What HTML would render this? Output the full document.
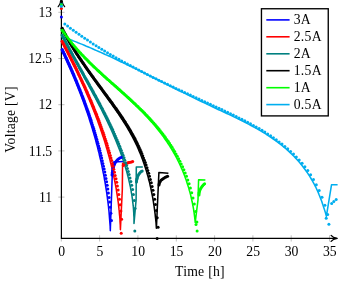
<!DOCTYPE html>
<html><head><meta charset="utf-8"><title>Discharge curves</title>
<style>html,body{margin:0;padding:0;background:#fff;}body{width:341px;height:284px;overflow:hidden;font-family:"Liberation Serif",serif;}svg{display:block;will-change:transform;transform:translateZ(0)}</style>
</head><body>
<svg width="341" height="284" viewBox="0 0 341 284">
<rect width="341" height="284" fill="#fff"/>
<path d="M61.3,235.3 V241.5 M99.6,235.3 V241.5 M137.9,235.3 V241.5 M176.3,235.3 V241.5 M214.6,235.3 V241.5 M252.9,235.3 V241.5 M291.2,235.3 V241.5 M329.5,235.3 V241.5 M58.3,197.1 H64.5 M58.3,150.9 H64.5 M58.3,104.7 H64.5 M58.3,58.5 H64.5 M58.3,12.3 H64.5" stroke="#808080" stroke-width="0.5" fill="none"/>
<path d="M61.4,239.00 V-2 M60.80,238.4 H336.6" stroke="#000" stroke-width="1.2" fill="none"/>
<path d="M61.4,-1.6 C61.90,2.2 63.00,4.8 64.60,6.7 M61.4,-1.6 C60.90,2.2 59.80,4.8 58.20,6.7" stroke="#000" stroke-width="1.25" stroke-linecap="round" fill="none"/>
<path d="M337.2,238.4 C334,238.90 332.2,239.90 331.1,241.40 M337.2,238.4 C334,237.90 332.2,236.90 331.1,235.40" stroke="#000" stroke-width="1.25" stroke-linecap="round" fill="none"/>
<path d="M61.4,49.0 L61.4,50.1 L62.0,51.3 L62.5,52.4 L63.0,53.6 L63.6,54.7 L64.1,55.8 L64.7,57.0 L65.2,58.1 L65.7,59.3 L66.3,60.4 L66.8,61.6 L67.3,62.7 L67.8,63.9 L68.4,65.1 L68.9,66.2 L69.4,67.4 L69.9,68.5 L70.4,69.7 L70.9,70.8 L71.4,72.0 L71.9,73.2 L72.4,74.3 L72.9,75.5 L73.4,76.7 L73.9,77.8 L74.4,79.0 L74.9,80.2 L75.4,81.4 L75.9,82.5 L76.4,83.7 L76.8,84.9 L77.3,86.1 L77.8,87.3 L78.2,88.4 L78.7,89.6 L79.2,90.8 L79.6,92.0 L80.1,93.2 L80.6,94.4 L81.0,95.6 L81.5,96.7 L81.9,97.9 L82.3,99.1 L82.8,100.3 L83.2,101.5 L83.7,102.7 L84.1,103.9 L84.5,105.1 L85.0,106.3 L85.4,107.5 L85.8,108.7 L86.2,109.9 L86.6,111.1 L87.0,112.3 L87.5,113.5 L87.9,114.7 L88.3,115.9 L88.7,117.1 L89.1,118.3 L89.4,119.6 L89.8,120.8 L90.2,122.0 L90.6,123.2 L91.0,124.4 L91.4,125.6 L91.7,126.8 L92.1,128.1 L92.5,129.3 L92.8,130.5 L93.2,131.7 L93.6,132.9 L93.9,134.2 L94.3,135.4 L94.6,136.6 L95.0,137.8 L95.3,139.1 L95.7,140.3 L96.0,141.5 L96.3,142.8 L96.6,144.0 L97.0,145.2 L97.3,146.4 L97.6,147.7 L97.9,148.9 L98.2,150.1 L98.5,151.4 L98.9,152.6 L99.2,153.9 L99.4,155.1 L99.7,156.3 L100.0,157.6 L100.3,158.8 L100.6,160.0 L100.9,161.3 L101.2,162.5 L101.4,163.8 L101.7,165.0 L102.0,166.3 L102.2,167.5 L102.5,168.8 L102.7,170.0 L103.0,171.3 L103.2,172.5 L103.5,173.7 L103.7,175.0 L104.0,176.2 L104.2,177.5 L104.4,178.8 L104.6,180.0 L104.9,181.3 L105.1,182.5 L105.3,183.8 L105.5,185.0 L105.7,186.3 L105.9,187.5 L106.1,188.8 L106.3,190.1 L106.5,191.3 L106.7,192.6 L106.9,193.8 L107.0,195.1 L107.2,196.4 L107.4,197.6 L107.5,198.9 L107.7,200.1 L107.9,201.4 L108.0,202.7 L108.2,203.9 L108.3,205.2 L108.5,206.5 L108.6,207.7 L108.7,209.0 L108.9,210.3 L109.0,211.5 L109.1,212.8 L109.2,214.1 L109.3,215.3 L109.4,216.6 L109.5,217.9 L109.6,219.1 L109.7,220.4 L109.8,221.7 L109.9,223.0 L110.0,224.2 L110.1,225.5 L110.2,226.8 L110.2,228.1 L110.3,229.3 L110.3,230.6 L111.4,200.0 L112.5,167.6 L113.5,162.0 L123.4,161.5" stroke="#0000ff" stroke-width="1.55" fill="none" stroke-linejoin="round"/>
<path d="M61.4,40.5 L61.4,41.7 L62.0,42.9 L62.6,44.1 L63.3,45.2 L63.9,46.4 L64.5,47.6 L65.1,48.8 L65.7,50.0 L66.4,51.2 L67.0,52.4 L67.6,53.6 L68.2,54.8 L68.8,56.0 L69.4,57.2 L70.0,58.4 L70.6,59.6 L71.2,60.8 L71.8,62.0 L72.4,63.2 L73.0,64.4 L73.6,65.6 L74.2,66.8 L74.8,68.0 L75.4,69.2 L76.0,70.4 L76.6,71.6 L77.2,72.8 L77.7,74.1 L78.3,75.3 L78.9,76.5 L79.5,77.7 L80.0,78.9 L80.6,80.1 L81.2,81.4 L81.7,82.6 L82.3,83.8 L82.8,85.0 L83.4,86.3 L83.9,87.5 L84.5,88.7 L85.0,89.9 L85.6,91.2 L86.1,92.4 L86.6,93.6 L87.2,94.9 L87.7,96.1 L88.2,97.3 L88.8,98.6 L89.3,99.8 L89.8,101.1 L90.3,102.3 L90.8,103.5 L91.3,104.8 L91.8,106.0 L92.3,107.3 L92.8,108.5 L93.3,109.8 L93.8,111.0 L94.3,112.3 L94.8,113.5 L95.3,114.8 L95.8,116.0 L96.2,117.3 L96.7,118.5 L97.2,119.8 L97.7,121.0 L98.1,122.3 L98.6,123.6 L99.0,124.8 L99.5,126.1 L99.9,127.3 L100.4,128.6 L100.8,129.9 L101.2,131.1 L101.7,132.4 L102.1,133.7 L102.5,135.0 L102.9,136.2 L103.4,137.5 L103.8,138.8 L104.2,140.1 L104.6,141.3 L105.0,142.6 L105.4,143.9 L105.8,145.2 L106.1,146.4 L106.5,147.7 L106.9,149.0 L107.3,150.3 L107.6,151.6 L108.0,152.9 L108.4,154.2 L108.7,155.5 L109.1,156.7 L109.4,158.0 L109.8,159.3 L110.1,160.6 L110.4,161.9 L110.8,163.2 L111.1,164.5 L111.4,165.8 L111.7,167.1 L112.0,168.4 L112.3,169.7 L112.6,171.0 L112.9,172.3 L113.2,173.6 L113.5,174.9 L113.8,176.3 L114.0,177.6 L114.3,178.9 L114.6,180.2 L114.8,181.5 L115.1,182.8 L115.3,184.1 L115.6,185.5 L115.8,186.8 L116.1,188.1 L116.3,189.4 L116.5,190.7 L116.7,192.1 L116.9,193.4 L117.1,194.7 L117.3,196.0 L117.5,197.4 L117.7,198.7 L117.9,200.0 L118.1,201.4 L118.3,202.7 L118.4,204.0 L118.6,205.4 L118.7,206.7 L118.9,208.0 L119.0,209.4 L119.2,210.7 L119.3,212.1 L119.4,213.4 L119.5,214.7 L119.7,216.1 L119.8,217.4 L119.9,218.8 L120.0,220.1 L120.0,221.5 L120.1,222.8 L120.2,224.2 L120.3,225.5 L120.3,226.9 L120.4,228.2 L120.4,229.6 L122.3,190.0 L122.6,163.2 L133.1,161.4" stroke="#ff0000" stroke-width="1.55" fill="none" stroke-linejoin="round"/>
<path d="M61.4,34.2 L61.4,35.4 L62.0,36.6 L62.6,37.8 L63.3,39.1 L63.9,40.3 L64.5,41.5 L65.2,42.7 L65.8,43.9 L66.4,45.1 L67.1,46.3 L67.7,47.5 L68.4,48.8 L69.0,50.0 L69.7,51.2 L70.3,52.4 L71.0,53.6 L71.7,54.8 L72.3,56.0 L73.0,57.2 L73.6,58.4 L74.3,59.6 L75.0,60.9 L75.6,62.1 L76.3,63.3 L77.0,64.5 L77.6,65.7 L78.3,66.9 L79.0,68.1 L79.6,69.3 L80.3,70.5 L81.0,71.7 L81.7,72.9 L82.3,74.2 L83.0,75.4 L83.7,76.6 L84.3,77.8 L85.0,79.0 L85.7,80.2 L86.3,81.4 L87.0,82.6 L87.7,83.8 L88.4,85.1 L89.0,86.3 L89.7,87.5 L90.3,88.7 L91.0,89.9 L91.7,91.1 L92.3,92.3 L93.0,93.6 L93.6,94.8 L94.3,96.0 L94.9,97.2 L95.6,98.4 L96.2,99.7 L96.9,100.9 L97.5,102.1 L98.2,103.3 L98.8,104.6 L99.5,105.8 L100.1,107.0 L100.7,108.2 L101.4,109.5 L102.0,110.7 L102.6,111.9 L103.2,113.2 L103.8,114.4 L104.5,115.6 L105.1,116.9 L105.7,118.1 L106.3,119.3 L106.9,120.6 L107.5,121.8 L108.1,123.1 L108.6,124.3 L109.2,125.5 L109.8,126.8 L110.4,128.0 L111.0,129.3 L111.5,130.5 L112.1,131.8 L112.6,133.0 L113.2,134.3 L113.7,135.6 L114.3,136.8 L114.8,138.1 L115.3,139.3 L115.9,140.6 L116.4,141.9 L116.9,143.1 L117.4,144.4 L117.9,145.7 L118.4,146.9 L118.9,148.2 L119.4,149.5 L119.9,150.8 L120.4,152.0 L120.8,153.3 L121.3,154.6 L121.7,155.9 L122.2,157.2 L122.6,158.5 L123.1,159.8 L123.5,161.1 L123.9,162.4 L124.3,163.7 L124.7,165.0 L125.1,166.3 L125.5,167.6 L125.9,168.9 L126.3,170.2 L126.7,171.5 L127.0,172.8 L127.4,174.1 L127.7,175.5 L128.1,176.8 L128.4,178.1 L128.7,179.4 L129.0,180.8 L129.3,182.1 L129.6,183.4 L129.9,184.8 L130.2,186.1 L130.5,187.4 L130.7,188.8 L131.0,190.1 L131.2,191.5 L131.4,192.8 L131.7,194.2 L131.9,195.6 L132.1,196.9 L132.3,198.3 L132.5,199.7 L132.6,201.0 L132.8,202.4 L133.0,203.8 L133.1,205.2 L133.3,206.5 L133.4,207.9 L133.5,209.3 L133.6,210.7 L133.7,212.1 L133.8,213.5 L133.8,214.9 L133.9,216.3 L134.0,217.7 L134.0,219.1 L134.0,220.6 L134.0,222.0 L134.0,223.4 L136.1,200.0 L136.3,167.0 L142.8,167.0" stroke="#008080" stroke-width="1.55" fill="none" stroke-linejoin="round"/>
<path d="M61.4,27.5 L61.4,28.9 L62.1,30.2 L62.8,31.6 L63.5,32.9 L64.3,34.2 L65.0,35.6 L65.7,36.9 L66.5,38.2 L67.2,39.6 L68.0,40.9 L68.7,42.2 L69.5,43.5 L70.3,44.8 L71.1,46.1 L71.9,47.4 L72.7,48.7 L73.5,50.0 L74.3,51.2 L75.1,52.5 L75.9,53.8 L76.7,55.1 L77.6,56.3 L78.4,57.6 L79.2,58.9 L80.1,60.1 L80.9,61.4 L81.8,62.6 L82.6,63.9 L83.5,65.1 L84.4,66.4 L85.2,67.6 L86.1,68.9 L87.0,70.1 L87.9,71.4 L88.7,72.6 L89.6,73.8 L90.5,75.1 L91.4,76.3 L92.3,77.5 L93.2,78.8 L94.1,80.0 L95.0,81.2 L95.9,82.5 L96.8,83.7 L97.6,84.9 L98.5,86.2 L99.4,87.4 L100.3,88.6 L101.2,89.9 L102.1,91.1 L103.0,92.3 L103.9,93.6 L104.8,94.8 L105.7,96.0 L106.6,97.2 L107.5,98.5 L108.4,99.7 L109.3,101.0 L110.2,102.2 L111.1,103.4 L112.0,104.7 L112.8,105.9 L113.7,107.2 L114.6,108.4 L115.5,109.7 L116.3,110.9 L117.2,112.2 L118.1,113.4 L118.9,114.7 L119.7,115.9 L120.6,117.2 L121.4,118.5 L122.3,119.7 L123.1,121.0 L123.9,122.3 L124.7,123.6 L125.5,124.8 L126.3,126.1 L127.1,127.4 L127.8,128.7 L128.6,130.0 L129.4,131.3 L130.1,132.6 L130.8,134.0 L131.6,135.3 L132.3,136.6 L133.0,137.9 L133.7,139.3 L134.4,140.6 L135.0,142.0 L135.7,143.3 L136.3,144.7 L137.0,146.0 L137.6,147.4 L138.2,148.8 L138.8,150.2 L139.4,151.6 L140.0,152.9 L140.5,154.3 L141.1,155.7 L141.6,157.1 L142.2,158.6 L142.7,160.0 L143.2,161.4 L143.7,162.8 L144.2,164.2 L144.7,165.7 L145.1,167.1 L145.6,168.5 L146.1,170.0 L146.5,171.4 L146.9,172.9 L147.3,174.3 L147.8,175.8 L148.2,177.2 L148.5,178.7 L148.9,180.2 L149.3,181.6 L149.7,183.1 L150.0,184.6 L150.3,186.1 L150.7,187.6 L151.0,189.0 L151.3,190.5 L151.6,192.0 L151.9,193.5 L152.2,195.0 L152.5,196.5 L152.8,198.0 L153.0,199.5 L153.3,201.0 L153.5,202.5 L153.7,204.0 L154.0,205.5 L154.2,207.0 L154.4,208.5 L154.6,210.1 L154.8,211.6 L155.0,213.1 L155.2,214.6 L155.3,216.1 L155.5,217.6 L155.7,219.2 L155.8,220.7 L156.0,222.2 L156.1,223.7 L156.2,225.3 L156.3,226.8 L156.4,228.3 L158.9,172.5 L168.4,173.2" stroke="#000000" stroke-width="1.55" fill="none" stroke-linejoin="round"/>
<path d="M61.4,29.3 L61.5,30.6 L62.5,32.0 L63.4,33.3 L64.3,34.6 L65.3,35.9 L66.2,37.2 L67.2,38.5 L68.2,39.8 L69.2,41.1 L70.2,42.3 L71.2,43.6 L72.2,44.8 L73.3,46.1 L74.3,47.3 L75.4,48.5 L76.5,49.7 L77.5,50.9 L78.6,52.1 L79.7,53.3 L80.8,54.5 L81.9,55.7 L83.1,56.8 L84.2,58.0 L85.3,59.1 L86.5,60.3 L87.6,61.4 L88.8,62.6 L89.9,63.7 L91.1,64.9 L92.3,66.0 L93.4,67.1 L94.6,68.2 L95.8,69.3 L97.0,70.5 L98.2,71.6 L99.4,72.7 L100.6,73.8 L101.8,74.9 L103.0,76.0 L104.2,77.1 L105.4,78.2 L106.7,79.3 L107.9,80.3 L109.1,81.4 L110.3,82.5 L111.5,83.6 L112.8,84.7 L114.0,85.8 L115.2,86.9 L116.4,88.0 L117.6,89.1 L118.9,90.1 L120.1,91.2 L121.3,92.3 L122.5,93.4 L123.7,94.5 L124.9,95.6 L126.1,96.7 L127.3,97.8 L128.5,98.9 L129.7,100.0 L130.9,101.1 L132.1,102.2 L133.3,103.4 L134.5,104.5 L135.7,105.6 L136.8,106.7 L138.0,107.9 L139.1,109.0 L140.3,110.1 L141.4,111.3 L142.6,112.4 L143.7,113.6 L144.8,114.8 L145.9,115.9 L147.1,117.1 L148.2,118.3 L149.2,119.5 L150.3,120.7 L151.4,121.9 L152.5,123.1 L153.5,124.3 L154.6,125.5 L155.6,126.8 L156.6,128.0 L157.6,129.3 L158.6,130.5 L159.6,131.8 L160.6,133.0 L161.6,134.3 L162.5,135.6 L163.5,136.9 L164.4,138.2 L165.3,139.5 L166.2,140.8 L167.1,142.1 L168.0,143.5 L168.9,144.8 L169.8,146.2 L170.6,147.5 L171.5,148.9 L172.3,150.3 L173.1,151.6 L173.9,153.0 L174.7,154.4 L175.5,155.8 L176.2,157.2 L177.0,158.7 L177.7,160.1 L178.4,161.5 L179.1,163.0 L179.8,164.4 L180.5,165.9 L181.1,167.3 L181.8,168.8 L182.4,170.3 L183.0,171.8 L183.6,173.3 L184.2,174.8 L184.8,176.3 L185.3,177.8 L185.9,179.3 L186.4,180.8 L186.9,182.4 L187.4,183.9 L187.9,185.5 L188.4,187.0 L188.9,188.6 L189.3,190.2 L189.8,191.7 L190.2,193.3 L190.6,194.9 L191.0,196.5 L191.3,198.1 L191.7,199.7 L192.0,201.3 L192.4,202.9 L192.7,204.5 L193.0,206.1 L193.3,207.7 L193.6,209.3 L193.8,211.0 L194.1,212.6 L194.3,214.3 L194.5,215.9 L194.7,217.5 L194.9,219.2 L195.1,220.8 L195.2,222.5 L198.0,200.0 L198.6,179.7 L205.4,180.0" stroke="#00ff00" stroke-width="1.55" fill="none" stroke-linejoin="round"/>
<path d="M61.4,36.3 L63.4,37.1 L65.5,37.9 L67.7,38.7 L69.8,39.5 L71.9,40.3 L73.9,41.1 L76.0,41.9 L78.1,42.8 L80.2,43.6 L82.3,44.4 L84.3,45.3 L86.4,46.2 L88.4,47.0 L90.5,47.9 L92.5,48.8 L94.6,49.7 L96.6,50.6 L98.7,51.5 L100.7,52.4 L102.7,53.3 L104.7,54.2 L106.8,55.1 L108.8,56.0 L110.8,56.9 L112.8,57.9 L114.8,58.8 L116.8,59.8 L118.8,60.7 L120.8,61.7 L122.8,62.6 L124.8,63.6 L126.8,64.5 L128.8,65.5 L130.8,66.5 L132.8,67.4 L134.8,68.4 L136.7,69.4 L138.7,70.3 L140.7,71.3 L142.7,72.3 L144.7,73.3 L146.6,74.3 L148.6,75.3 L150.6,76.3 L152.6,77.2 L154.6,78.2 L156.5,79.2 L158.5,80.2 L160.5,81.2 L162.5,82.2 L164.5,83.2 L166.4,84.2 L168.4,85.2 L170.4,86.2 L172.4,87.2 L174.4,88.2 L176.3,89.2 L178.3,90.2 L180.3,91.2 L182.3,92.1 L184.3,93.1 L186.3,94.1 L188.3,95.1 L190.3,96.1 L192.3,97.1 L194.3,98.1 L196.3,99.0 L198.3,100.0 L200.3,101.0 L202.4,102.0 L204.4,102.9 L206.4,103.9 L208.4,104.9 L210.5,105.8 L212.5,106.8 L214.5,107.7 L216.6,108.7 L218.6,109.7 L220.7,110.6 L222.7,111.6 L224.8,112.5 L226.8,113.5 L228.8,114.4 L230.9,115.4 L232.9,116.4 L234.9,117.4 L237.0,118.3 L239.0,119.3 L241.0,120.3 L243.0,121.3 L245.0,122.3 L247.0,123.4 L249.0,124.4 L251.0,125.5 L252.9,126.5 L254.9,127.6 L256.8,128.7 L258.8,129.8 L260.7,130.9 L262.6,132.0 L264.5,133.2 L266.4,134.4 L268.2,135.6 L270.1,136.8 L271.9,138.0 L273.7,139.3 L275.5,140.5 L277.3,141.8 L279.0,143.2 L280.8,144.5 L282.5,145.9 L284.2,147.3 L285.9,148.7 L287.5,150.2 L289.1,151.6 L290.7,153.2 L292.3,154.7 L293.9,156.3 L295.4,157.9 L296.9,159.5 L298.3,161.1 L299.8,162.8 L301.2,164.5 L302.6,166.2 L303.9,168.0 L305.2,169.7 L306.5,171.5 L307.8,173.4 L309.0,175.2 L310.2,177.1 L311.3,179.0 L312.4,180.9 L313.5,182.8 L314.6,184.8 L315.6,186.8 L316.5,188.8 L317.5,190.9 L318.4,192.9 L319.2,195.0 L320.1,197.1 L320.9,199.2 L321.7,201.3 L322.4,203.4 L323.1,205.5 L323.8,207.7 L324.5,209.8 L325.2,211.9 L325.8,214.1 L326.4,216.2 L331.5,184.8 L337.6,184.8" stroke="#00aeef" stroke-width="1.55" fill="none" stroke-linejoin="round"/>
<g fill="#0000ff"><circle cx="62.3" cy="49.6" r="1.5"/><circle cx="62.9" cy="50.9" r="1.5"/><circle cx="63.5" cy="52.1" r="1.5"/><circle cx="64.1" cy="53.4" r="1.5"/><circle cx="64.7" cy="54.6" r="1.5"/><circle cx="65.3" cy="55.9" r="1.5"/><circle cx="65.9" cy="57.2" r="1.5"/><circle cx="66.5" cy="58.5" r="1.5"/><circle cx="67.1" cy="59.8" r="1.5"/><circle cx="67.7" cy="61.1" r="1.5"/><circle cx="68.3" cy="62.4" r="1.5"/><circle cx="68.9" cy="63.7" r="1.5"/><circle cx="69.5" cy="65.0" r="1.5"/><circle cx="70.1" cy="66.4" r="1.5"/><circle cx="70.7" cy="67.7" r="1.5"/><circle cx="71.3" cy="69.1" r="1.5"/><circle cx="71.9" cy="70.4" r="1.5"/><circle cx="72.5" cy="71.8" r="1.5"/><circle cx="73.1" cy="73.2" r="1.5"/><circle cx="73.7" cy="74.6" r="1.5"/><circle cx="74.3" cy="76.0" r="1.5"/><circle cx="74.9" cy="77.4" r="1.5"/><circle cx="75.5" cy="78.9" r="1.5"/><circle cx="76.1" cy="80.3" r="1.5"/><circle cx="76.7" cy="81.8" r="1.5"/><circle cx="77.3" cy="83.2" r="1.5"/><circle cx="77.9" cy="84.7" r="1.5"/><circle cx="78.5" cy="86.2" r="1.5"/><circle cx="79.1" cy="87.7" r="1.5"/><circle cx="79.7" cy="89.2" r="1.5"/><circle cx="80.3" cy="90.7" r="1.5"/><circle cx="80.9" cy="92.3" r="1.5"/><circle cx="81.5" cy="93.8" r="1.5"/><circle cx="82.1" cy="95.4" r="1.5"/><circle cx="82.8" cy="97.0" r="1.5"/><circle cx="83.4" cy="98.6" r="1.5"/><circle cx="84.0" cy="100.2" r="1.5"/><circle cx="84.6" cy="101.9" r="1.5"/><circle cx="85.2" cy="103.5" r="1.5"/><circle cx="85.8" cy="105.2" r="1.5"/><circle cx="86.4" cy="106.9" r="1.5"/><circle cx="87.0" cy="108.6" r="1.5"/><circle cx="87.6" cy="110.3" r="1.5"/><circle cx="88.3" cy="112.0" r="1.5"/><circle cx="88.9" cy="113.8" r="1.5"/><circle cx="89.5" cy="115.6" r="1.5"/><circle cx="90.1" cy="117.4" r="1.5"/><circle cx="90.7" cy="119.3" r="1.5"/><circle cx="91.3" cy="121.1" r="1.5"/><circle cx="91.9" cy="123.0" r="1.5"/><circle cx="92.5" cy="124.9" r="1.5"/><circle cx="93.2" cy="126.9" r="1.5"/><circle cx="93.8" cy="128.8" r="1.5"/><circle cx="94.4" cy="130.8" r="1.5"/><circle cx="95.0" cy="132.9" r="1.5"/><circle cx="95.6" cy="135.0" r="1.5"/><circle cx="96.2" cy="137.1" r="1.5"/><circle cx="96.8" cy="139.2" r="1.5"/><circle cx="97.4" cy="141.4" r="1.5"/><circle cx="98.0" cy="143.6" r="1.5"/><circle cx="98.7" cy="145.9" r="1.5"/><circle cx="99.3" cy="148.2" r="1.5"/><circle cx="99.9" cy="150.6" r="1.5"/><circle cx="100.5" cy="153.0" r="1.5"/><circle cx="101.1" cy="155.5" r="1.5"/><circle cx="101.7" cy="158.1" r="1.5"/><circle cx="102.3" cy="160.7" r="1.5"/><circle cx="102.9" cy="163.4" r="1.5"/><circle cx="103.5" cy="166.2" r="1.5"/><circle cx="104.2" cy="169.1" r="1.5"/><circle cx="104.8" cy="172.1" r="1.5"/><circle cx="105.4" cy="175.2" r="1.5"/><circle cx="106.0" cy="178.4" r="1.5"/><circle cx="106.6" cy="181.8" r="1.5"/><circle cx="107.2" cy="185.3" r="1.5"/><circle cx="107.8" cy="189.1" r="1.5"/><circle cx="108.4" cy="193.1" r="1.5"/><circle cx="109.1" cy="197.4" r="1.5"/><circle cx="109.7" cy="202.1" r="1.5"/><circle cx="110.3" cy="207.3" r="1.5"/><circle cx="110.9" cy="213.3" r="1.5"/><circle cx="111.5" cy="220.6" r="1.5"/><circle cx="112.0" cy="175.0" r="1.5"/><circle cx="112.2" cy="173.7" r="1.5"/><circle cx="112.3" cy="172.4" r="1.5"/><circle cx="112.5" cy="171.1" r="1.5"/><circle cx="112.8" cy="169.9" r="1.5"/><circle cx="113.0" cy="168.6" r="1.5"/><circle cx="113.4" cy="167.3" r="1.5"/><circle cx="113.7" cy="166.1" r="1.5"/><circle cx="114.2" cy="164.9" r="1.5"/><circle cx="114.7" cy="163.7" r="1.5"/><circle cx="115.3" cy="162.5" r="1.5"/><circle cx="116.0" cy="161.4" r="1.5"/><circle cx="116.8" cy="160.4" r="1.5"/><circle cx="117.7" cy="159.5" r="1.5"/><circle cx="118.7" cy="158.7" r="1.5"/><circle cx="119.8" cy="158.0" r="1.5"/><circle cx="121.0" cy="157.5" r="1.5"/><circle cx="122.3" cy="157.1" r="1.5"/><circle cx="61.4" cy="17.0" r="1.5"/></g>
<g fill="#ff0000"><circle cx="62.2" cy="41.2" r="1.5"/><circle cx="62.9" cy="42.5" r="1.5"/><circle cx="63.6" cy="43.8" r="1.5"/><circle cx="64.3" cy="45.1" r="1.5"/><circle cx="65.0" cy="46.5" r="1.5"/><circle cx="65.7" cy="47.8" r="1.5"/><circle cx="66.4" cy="49.1" r="1.5"/><circle cx="67.1" cy="50.5" r="1.5"/><circle cx="67.8" cy="51.8" r="1.5"/><circle cx="68.5" cy="53.2" r="1.5"/><circle cx="69.2" cy="54.6" r="1.5"/><circle cx="69.9" cy="55.9" r="1.5"/><circle cx="70.6" cy="57.3" r="1.5"/><circle cx="71.3" cy="58.7" r="1.5"/><circle cx="72.0" cy="60.1" r="1.5"/><circle cx="72.7" cy="61.5" r="1.5"/><circle cx="73.4" cy="62.9" r="1.5"/><circle cx="74.1" cy="64.3" r="1.5"/><circle cx="74.8" cy="65.7" r="1.5"/><circle cx="75.5" cy="67.1" r="1.5"/><circle cx="76.2" cy="68.6" r="1.5"/><circle cx="76.9" cy="70.0" r="1.5"/><circle cx="77.6" cy="71.5" r="1.5"/><circle cx="78.3" cy="72.9" r="1.5"/><circle cx="79.0" cy="74.4" r="1.5"/><circle cx="79.7" cy="75.9" r="1.5"/><circle cx="80.4" cy="77.4" r="1.5"/><circle cx="81.1" cy="78.9" r="1.5"/><circle cx="81.8" cy="80.4" r="1.5"/><circle cx="82.5" cy="81.9" r="1.5"/><circle cx="83.2" cy="83.4" r="1.5"/><circle cx="84.0" cy="85.0" r="1.5"/><circle cx="84.7" cy="86.5" r="1.5"/><circle cx="85.4" cy="88.1" r="1.5"/><circle cx="86.1" cy="89.7" r="1.5"/><circle cx="86.8" cy="91.2" r="1.5"/><circle cx="87.5" cy="92.8" r="1.5"/><circle cx="88.2" cy="94.5" r="1.5"/><circle cx="88.9" cy="96.1" r="1.5"/><circle cx="89.6" cy="97.7" r="1.5"/><circle cx="90.4" cy="99.4" r="1.5"/><circle cx="91.1" cy="101.1" r="1.5"/><circle cx="91.8" cy="102.7" r="1.5"/><circle cx="92.5" cy="104.4" r="1.5"/><circle cx="93.2" cy="106.2" r="1.5"/><circle cx="93.9" cy="107.9" r="1.5"/><circle cx="94.6" cy="109.7" r="1.5"/><circle cx="95.3" cy="111.4" r="1.5"/><circle cx="96.0" cy="113.2" r="1.5"/><circle cx="96.8" cy="115.0" r="1.5"/><circle cx="97.5" cy="116.9" r="1.5"/><circle cx="98.2" cy="118.7" r="1.5"/><circle cx="98.9" cy="120.6" r="1.5"/><circle cx="99.6" cy="122.5" r="1.5"/><circle cx="100.3" cy="124.5" r="1.5"/><circle cx="101.0" cy="126.4" r="1.5"/><circle cx="101.7" cy="128.4" r="1.5"/><circle cx="102.4" cy="130.4" r="1.5"/><circle cx="103.2" cy="132.5" r="1.5"/><circle cx="103.9" cy="134.6" r="1.5"/><circle cx="104.6" cy="136.7" r="1.5"/><circle cx="105.3" cy="138.9" r="1.5"/><circle cx="106.0" cy="141.1" r="1.5"/><circle cx="106.7" cy="143.3" r="1.5"/><circle cx="107.4" cy="145.6" r="1.5"/><circle cx="108.1" cy="148.0" r="1.5"/><circle cx="108.8" cy="150.4" r="1.5"/><circle cx="109.6" cy="152.8" r="1.5"/><circle cx="110.3" cy="155.4" r="1.5"/><circle cx="111.0" cy="157.9" r="1.5"/><circle cx="111.7" cy="160.6" r="1.5"/><circle cx="112.4" cy="163.4" r="1.5"/><circle cx="113.1" cy="166.2" r="1.5"/><circle cx="113.8" cy="169.2" r="1.5"/><circle cx="114.5" cy="172.2" r="1.5"/><circle cx="115.2" cy="175.4" r="1.5"/><circle cx="116.0" cy="178.8" r="1.5"/><circle cx="116.7" cy="182.3" r="1.5"/><circle cx="117.4" cy="186.1" r="1.5"/><circle cx="118.1" cy="190.1" r="1.5"/><circle cx="118.8" cy="194.5" r="1.5"/><circle cx="119.5" cy="199.3" r="1.5"/><circle cx="120.2" cy="204.7" r="1.5"/><circle cx="120.9" cy="211.1" r="1.5"/><circle cx="121.6" cy="219.3" r="1.5"/><circle cx="123.3" cy="165.5" r="1.5"/><circle cx="124.2" cy="164.6" r="1.5"/><circle cx="125.3" cy="163.8" r="1.5"/><circle cx="126.5" cy="163.3" r="1.5"/><circle cx="127.7" cy="162.9" r="1.5"/><circle cx="128.9" cy="162.5" r="1.5"/><circle cx="130.2" cy="162.2" r="1.5"/><circle cx="131.5" cy="161.9" r="1.5"/><circle cx="132.7" cy="161.5" r="1.5"/><circle cx="61.4" cy="8.4" r="1.5"/><circle cx="121.2" cy="233.3" r="1.5"/></g>
<g fill="#008080"><circle cx="62.3" cy="35.0" r="1.5"/><circle cx="63.1" cy="36.7" r="1.5"/><circle cx="64.0" cy="38.3" r="1.5"/><circle cx="64.8" cy="40.0" r="1.5"/><circle cx="65.7" cy="41.6" r="1.5"/><circle cx="66.5" cy="43.2" r="1.5"/><circle cx="67.4" cy="44.8" r="1.5"/><circle cx="68.2" cy="46.4" r="1.5"/><circle cx="69.1" cy="48.0" r="1.5"/><circle cx="69.9" cy="49.6" r="1.5"/><circle cx="70.8" cy="51.2" r="1.5"/><circle cx="71.6" cy="52.7" r="1.5"/><circle cx="72.5" cy="54.3" r="1.5"/><circle cx="73.3" cy="55.9" r="1.5"/><circle cx="74.2" cy="57.4" r="1.5"/><circle cx="75.0" cy="59.0" r="1.5"/><circle cx="75.9" cy="60.5" r="1.5"/><circle cx="76.7" cy="62.0" r="1.5"/><circle cx="77.6" cy="63.6" r="1.5"/><circle cx="78.4" cy="65.1" r="1.5"/><circle cx="79.3" cy="66.7" r="1.5"/><circle cx="80.1" cy="68.2" r="1.5"/><circle cx="81.0" cy="69.7" r="1.5"/><circle cx="81.8" cy="71.3" r="1.5"/><circle cx="82.7" cy="72.8" r="1.5"/><circle cx="83.5" cy="74.3" r="1.5"/><circle cx="84.4" cy="75.9" r="1.5"/><circle cx="85.2" cy="77.4" r="1.5"/><circle cx="86.1" cy="78.9" r="1.5"/><circle cx="87.0" cy="80.5" r="1.5"/><circle cx="87.8" cy="82.0" r="1.5"/><circle cx="88.7" cy="83.6" r="1.5"/><circle cx="89.5" cy="85.1" r="1.5"/><circle cx="90.4" cy="86.7" r="1.5"/><circle cx="91.3" cy="88.2" r="1.5"/><circle cx="92.1" cy="89.8" r="1.5"/><circle cx="93.0" cy="91.3" r="1.5"/><circle cx="93.8" cy="92.9" r="1.5"/><circle cx="94.7" cy="94.5" r="1.5"/><circle cx="95.6" cy="96.1" r="1.5"/><circle cx="96.4" cy="97.6" r="1.5"/><circle cx="97.3" cy="99.2" r="1.5"/><circle cx="98.1" cy="100.8" r="1.5"/><circle cx="99.0" cy="102.5" r="1.5"/><circle cx="99.9" cy="104.1" r="1.5"/><circle cx="100.7" cy="105.7" r="1.5"/><circle cx="101.6" cy="107.4" r="1.5"/><circle cx="102.5" cy="109.0" r="1.5"/><circle cx="103.3" cy="110.7" r="1.5"/><circle cx="104.2" cy="112.4" r="1.5"/><circle cx="105.0" cy="114.1" r="1.5"/><circle cx="105.9" cy="115.8" r="1.5"/><circle cx="106.8" cy="117.5" r="1.5"/><circle cx="107.6" cy="119.2" r="1.5"/><circle cx="108.5" cy="121.0" r="1.5"/><circle cx="109.3" cy="122.8" r="1.5"/><circle cx="110.2" cy="124.6" r="1.5"/><circle cx="111.1" cy="126.4" r="1.5"/><circle cx="111.9" cy="128.2" r="1.5"/><circle cx="112.8" cy="130.1" r="1.5"/><circle cx="113.6" cy="132.0" r="1.5"/><circle cx="114.5" cy="133.9" r="1.5"/><circle cx="115.4" cy="135.9" r="1.5"/><circle cx="116.2" cy="137.9" r="1.5"/><circle cx="117.1" cy="139.9" r="1.5"/><circle cx="118.0" cy="141.9" r="1.5"/><circle cx="118.8" cy="144.0" r="1.5"/><circle cx="119.7" cy="146.2" r="1.5"/><circle cx="120.5" cy="148.4" r="1.5"/><circle cx="121.4" cy="150.6" r="1.5"/><circle cx="122.3" cy="152.9" r="1.5"/><circle cx="123.1" cy="155.3" r="1.5"/><circle cx="124.0" cy="157.7" r="1.5"/><circle cx="124.8" cy="160.3" r="1.5"/><circle cx="125.7" cy="162.9" r="1.5"/><circle cx="126.6" cy="165.6" r="1.5"/><circle cx="127.4" cy="168.4" r="1.5"/><circle cx="128.3" cy="171.4" r="1.5"/><circle cx="129.1" cy="174.5" r="1.5"/><circle cx="130.0" cy="177.9" r="1.5"/><circle cx="130.9" cy="181.4" r="1.5"/><circle cx="131.7" cy="185.3" r="1.5"/><circle cx="132.6" cy="189.6" r="1.5"/><circle cx="133.4" cy="194.5" r="1.5"/><circle cx="134.3" cy="200.5" r="1.5"/><circle cx="135.1" cy="208.5" r="1.5"/><circle cx="136.5" cy="182.0" r="1.5"/><circle cx="136.6" cy="180.7" r="1.5"/><circle cx="136.8" cy="179.4" r="1.5"/><circle cx="137.1" cy="178.2" r="1.5"/><circle cx="137.5" cy="176.9" r="1.5"/><circle cx="138.0" cy="175.7" r="1.5"/><circle cx="138.7" cy="174.6" r="1.5"/><circle cx="139.4" cy="173.5" r="1.5"/><circle cx="140.2" cy="172.5" r="1.5"/><circle cx="141.2" cy="171.6" r="1.5"/><circle cx="142.2" cy="170.9" r="1.5"/><circle cx="61.4" cy="3.0" r="1.5"/><circle cx="134.8" cy="231.0" r="1.5"/></g>
<g fill="#000000"><circle cx="62.3" cy="28.3" r="1.5"/><circle cx="63.1" cy="30.0" r="1.5"/><circle cx="64.0" cy="31.7" r="1.5"/><circle cx="64.8" cy="33.3" r="1.5"/><circle cx="65.7" cy="34.8" r="1.5"/><circle cx="66.5" cy="36.4" r="1.5"/><circle cx="67.4" cy="37.9" r="1.5"/><circle cx="68.2" cy="39.4" r="1.5"/><circle cx="69.1" cy="40.9" r="1.5"/><circle cx="69.9" cy="42.3" r="1.5"/><circle cx="70.8" cy="43.8" r="1.5"/><circle cx="71.6" cy="45.2" r="1.5"/><circle cx="72.5" cy="46.6" r="1.5"/><circle cx="73.3" cy="48.0" r="1.5"/><circle cx="74.2" cy="49.3" r="1.5"/><circle cx="75.0" cy="50.7" r="1.5"/><circle cx="75.9" cy="52.0" r="1.5"/><circle cx="76.7" cy="53.4" r="1.5"/><circle cx="77.6" cy="54.7" r="1.5"/><circle cx="78.4" cy="56.0" r="1.5"/><circle cx="79.3" cy="57.3" r="1.5"/><circle cx="80.1" cy="58.6" r="1.5"/><circle cx="81.0" cy="59.8" r="1.5"/><circle cx="81.8" cy="61.1" r="1.5"/><circle cx="82.7" cy="62.3" r="1.5"/><circle cx="83.5" cy="63.6" r="1.5"/><circle cx="84.4" cy="64.8" r="1.5"/><circle cx="85.2" cy="66.0" r="1.5"/><circle cx="86.1" cy="67.3" r="1.5"/><circle cx="86.9" cy="68.5" r="1.5"/><circle cx="87.8" cy="69.7" r="1.5"/><circle cx="88.6" cy="70.9" r="1.5"/><circle cx="89.5" cy="72.1" r="1.5"/><circle cx="90.3" cy="73.3" r="1.5"/><circle cx="91.2" cy="74.5" r="1.5"/><circle cx="92.0" cy="75.7" r="1.5"/><circle cx="92.9" cy="76.8" r="1.5"/><circle cx="93.7" cy="78.0" r="1.5"/><circle cx="94.6" cy="79.2" r="1.5"/><circle cx="95.5" cy="80.4" r="1.5"/><circle cx="96.3" cy="81.5" r="1.5"/><circle cx="97.2" cy="82.7" r="1.5"/><circle cx="98.0" cy="83.9" r="1.5"/><circle cx="98.9" cy="85.0" r="1.5"/><circle cx="99.8" cy="86.2" r="1.5"/><circle cx="100.6" cy="87.4" r="1.5"/><circle cx="101.5" cy="88.5" r="1.5"/><circle cx="102.3" cy="89.7" r="1.5"/><circle cx="103.2" cy="90.9" r="1.5"/><circle cx="104.0" cy="92.0" r="1.5"/><circle cx="104.9" cy="93.2" r="1.5"/><circle cx="105.8" cy="94.4" r="1.5"/><circle cx="106.6" cy="95.5" r="1.5"/><circle cx="107.5" cy="96.7" r="1.5"/><circle cx="108.3" cy="97.9" r="1.5"/><circle cx="109.2" cy="99.0" r="1.5"/><circle cx="110.1" cy="100.2" r="1.5"/><circle cx="110.9" cy="101.4" r="1.5"/><circle cx="111.8" cy="102.6" r="1.5"/><circle cx="112.6" cy="103.8" r="1.5"/><circle cx="113.5" cy="105.0" r="1.5"/><circle cx="114.4" cy="106.2" r="1.5"/><circle cx="115.2" cy="107.4" r="1.5"/><circle cx="116.1" cy="108.6" r="1.5"/><circle cx="116.9" cy="109.8" r="1.5"/><circle cx="117.8" cy="111.0" r="1.5"/><circle cx="118.6" cy="112.3" r="1.5"/><circle cx="119.5" cy="113.5" r="1.5"/><circle cx="120.4" cy="114.8" r="1.5"/><circle cx="121.2" cy="116.0" r="1.5"/><circle cx="122.1" cy="117.3" r="1.5"/><circle cx="122.9" cy="118.6" r="1.5"/><circle cx="123.8" cy="119.9" r="1.5"/><circle cx="124.7" cy="121.2" r="1.5"/><circle cx="125.5" cy="122.6" r="1.5"/><circle cx="126.4" cy="123.9" r="1.5"/><circle cx="127.2" cy="125.3" r="1.5"/><circle cx="128.1" cy="126.7" r="1.5"/><circle cx="128.9" cy="128.1" r="1.5"/><circle cx="129.8" cy="129.6" r="1.5"/><circle cx="130.7" cy="131.0" r="1.5"/><circle cx="131.5" cy="132.5" r="1.5"/><circle cx="132.4" cy="134.0" r="1.5"/><circle cx="133.2" cy="135.6" r="1.5"/><circle cx="134.1" cy="137.2" r="1.5"/><circle cx="135.0" cy="138.8" r="1.5"/><circle cx="135.8" cy="140.4" r="1.5"/><circle cx="136.7" cy="142.2" r="1.5"/><circle cx="137.5" cy="143.9" r="1.5"/><circle cx="138.4" cy="145.7" r="1.5"/><circle cx="139.2" cy="147.6" r="1.5"/><circle cx="140.1" cy="149.5" r="1.5"/><circle cx="141.0" cy="151.5" r="1.5"/><circle cx="141.8" cy="153.6" r="1.5"/><circle cx="142.7" cy="155.7" r="1.5"/><circle cx="143.5" cy="157.9" r="1.5"/><circle cx="144.4" cy="160.2" r="1.5"/><circle cx="145.3" cy="162.6" r="1.5"/><circle cx="146.1" cy="165.1" r="1.5"/><circle cx="147.0" cy="167.7" r="1.5"/><circle cx="147.8" cy="170.4" r="1.5"/><circle cx="148.7" cy="173.2" r="1.5"/><circle cx="149.5" cy="176.2" r="1.5"/><circle cx="150.4" cy="179.4" r="1.5"/><circle cx="151.3" cy="182.8" r="1.5"/><circle cx="152.1" cy="186.4" r="1.5"/><circle cx="153.0" cy="190.3" r="1.5"/><circle cx="153.8" cy="194.6" r="1.5"/><circle cx="154.7" cy="199.3" r="1.5"/><circle cx="155.5" cy="204.5" r="1.5"/><circle cx="156.4" cy="210.6" r="1.5"/><circle cx="157.2" cy="217.8" r="1.5"/><circle cx="158.1" cy="227.3" r="1.5"/><circle cx="159.0" cy="185.0" r="1.5"/><circle cx="159.2" cy="183.7" r="1.5"/><circle cx="159.6" cy="182.5" r="1.5"/><circle cx="160.2" cy="181.4" r="1.5"/><circle cx="161.0" cy="180.3" r="1.5"/><circle cx="162.0" cy="179.4" r="1.5"/><circle cx="163.0" cy="178.7" r="1.5"/><circle cx="164.1" cy="178.0" r="1.5"/><circle cx="165.3" cy="177.3" r="1.5"/><circle cx="166.4" cy="176.8" r="1.5"/><circle cx="167.6" cy="176.2" r="1.5"/><circle cx="61.4" cy="1.5" r="1.5"/><circle cx="157.1" cy="238.4" r="1.5"/></g>
<g fill="#00ff00"><circle cx="62.4" cy="30.3" r="1.5"/><circle cx="63.7" cy="32.2" r="1.5"/><circle cx="65.0" cy="34.1" r="1.5"/><circle cx="66.3" cy="35.9" r="1.5"/><circle cx="67.6" cy="37.6" r="1.5"/><circle cx="68.9" cy="39.3" r="1.5"/><circle cx="70.2" cy="41.0" r="1.5"/><circle cx="71.5" cy="42.6" r="1.5"/><circle cx="72.8" cy="44.2" r="1.5"/><circle cx="74.1" cy="45.7" r="1.5"/><circle cx="75.4" cy="47.3" r="1.5"/><circle cx="76.7" cy="48.7" r="1.5"/><circle cx="78.0" cy="50.2" r="1.5"/><circle cx="79.3" cy="51.7" r="1.5"/><circle cx="80.6" cy="53.1" r="1.5"/><circle cx="81.9" cy="54.5" r="1.5"/><circle cx="83.2" cy="55.8" r="1.5"/><circle cx="84.5" cy="57.2" r="1.5"/><circle cx="85.8" cy="58.5" r="1.5"/><circle cx="87.1" cy="59.8" r="1.5"/><circle cx="88.4" cy="61.1" r="1.5"/><circle cx="89.7" cy="62.4" r="1.5"/><circle cx="91.0" cy="63.7" r="1.5"/><circle cx="92.3" cy="65.0" r="1.5"/><circle cx="93.6" cy="66.2" r="1.5"/><circle cx="94.9" cy="67.4" r="1.5"/><circle cx="96.2" cy="68.7" r="1.5"/><circle cx="97.5" cy="69.9" r="1.5"/><circle cx="98.8" cy="71.1" r="1.5"/><circle cx="100.1" cy="72.3" r="1.5"/><circle cx="101.4" cy="73.5" r="1.5"/><circle cx="102.7" cy="74.7" r="1.5"/><circle cx="104.0" cy="75.9" r="1.5"/><circle cx="105.3" cy="77.0" r="1.5"/><circle cx="106.6" cy="78.2" r="1.5"/><circle cx="107.9" cy="79.4" r="1.5"/><circle cx="109.2" cy="80.5" r="1.5"/><circle cx="110.5" cy="81.7" r="1.5"/><circle cx="111.9" cy="82.9" r="1.5"/><circle cx="113.2" cy="84.0" r="1.5"/><circle cx="114.5" cy="85.2" r="1.5"/><circle cx="115.8" cy="86.3" r="1.5"/><circle cx="117.1" cy="87.5" r="1.5"/><circle cx="118.4" cy="88.7" r="1.5"/><circle cx="119.7" cy="89.8" r="1.5"/><circle cx="121.0" cy="91.0" r="1.5"/><circle cx="122.3" cy="92.2" r="1.5"/><circle cx="123.6" cy="93.3" r="1.5"/><circle cx="124.9" cy="94.5" r="1.5"/><circle cx="126.3" cy="95.7" r="1.5"/><circle cx="127.6" cy="96.9" r="1.5"/><circle cx="128.9" cy="98.1" r="1.5"/><circle cx="130.2" cy="99.3" r="1.5"/><circle cx="131.5" cy="100.5" r="1.5"/><circle cx="132.8" cy="101.7" r="1.5"/><circle cx="134.1" cy="102.9" r="1.5"/><circle cx="135.4" cy="104.1" r="1.5"/><circle cx="136.7" cy="105.4" r="1.5"/><circle cx="138.0" cy="106.6" r="1.5"/><circle cx="139.4" cy="107.9" r="1.5"/><circle cx="140.7" cy="109.2" r="1.5"/><circle cx="142.0" cy="110.4" r="1.5"/><circle cx="143.3" cy="111.8" r="1.5"/><circle cx="144.6" cy="113.1" r="1.5"/><circle cx="145.9" cy="114.4" r="1.5"/><circle cx="147.2" cy="115.8" r="1.5"/><circle cx="148.5" cy="117.2" r="1.5"/><circle cx="149.8" cy="118.6" r="1.5"/><circle cx="151.1" cy="120.0" r="1.5"/><circle cx="152.4" cy="121.4" r="1.5"/><circle cx="153.8" cy="122.9" r="1.5"/><circle cx="155.1" cy="124.4" r="1.5"/><circle cx="156.4" cy="125.9" r="1.5"/><circle cx="157.7" cy="127.5" r="1.5"/><circle cx="159.0" cy="129.1" r="1.5"/><circle cx="160.3" cy="130.7" r="1.5"/><circle cx="161.6" cy="132.4" r="1.5"/><circle cx="162.9" cy="134.1" r="1.5"/><circle cx="164.2" cy="135.8" r="1.5"/><circle cx="165.5" cy="137.6" r="1.5"/><circle cx="166.8" cy="139.5" r="1.5"/><circle cx="168.2" cy="141.3" r="1.5"/><circle cx="169.5" cy="143.3" r="1.5"/><circle cx="170.8" cy="145.3" r="1.5"/><circle cx="172.1" cy="147.3" r="1.5"/><circle cx="173.4" cy="149.4" r="1.5"/><circle cx="174.7" cy="151.6" r="1.5"/><circle cx="176.0" cy="153.9" r="1.5"/><circle cx="177.3" cy="156.3" r="1.5"/><circle cx="178.6" cy="158.7" r="1.5"/><circle cx="179.9" cy="161.3" r="1.5"/><circle cx="181.2" cy="164.0" r="1.5"/><circle cx="182.6" cy="166.8" r="1.5"/><circle cx="183.9" cy="169.8" r="1.5"/><circle cx="185.2" cy="173.0" r="1.5"/><circle cx="186.5" cy="176.3" r="1.5"/><circle cx="187.8" cy="179.9" r="1.5"/><circle cx="189.1" cy="183.8" r="1.5"/><circle cx="190.4" cy="188.0" r="1.5"/><circle cx="191.7" cy="192.7" r="1.5"/><circle cx="193.0" cy="197.9" r="1.5"/><circle cx="194.3" cy="204.0" r="1.5"/><circle cx="195.6" cy="211.5" r="1.5"/><circle cx="196.9" cy="222.0" r="1.5"/><circle cx="199.0" cy="195.0" r="1.5"/><circle cx="199.0" cy="193.7" r="1.5"/><circle cx="199.2" cy="192.4" r="1.5"/><circle cx="199.5" cy="191.2" r="1.5"/><circle cx="200.0" cy="189.9" r="1.5"/><circle cx="200.5" cy="188.8" r="1.5"/><circle cx="201.2" cy="187.7" r="1.5"/><circle cx="202.0" cy="186.6" r="1.5"/><circle cx="202.8" cy="185.6" r="1.5"/><circle cx="203.7" cy="184.6" r="1.5"/><circle cx="204.6" cy="183.7" r="1.5"/><circle cx="61.4" cy="4.9" r="1.5"/><circle cx="196.0" cy="224.6" r="1.5"/><circle cx="197.1" cy="231.0" r="1.5"/></g>
<g fill="#00aeef"><circle cx="64.8" cy="23.9" r="1.5"/><circle cx="67.6" cy="26.1" r="1.5"/><circle cx="70.4" cy="28.2" r="1.5"/><circle cx="73.3" cy="30.3" r="1.5"/><circle cx="76.1" cy="32.3" r="1.5"/><circle cx="79.0" cy="34.3" r="1.5"/><circle cx="81.8" cy="36.3" r="1.5"/><circle cx="84.7" cy="38.2" r="1.5"/><circle cx="87.5" cy="40.1" r="1.5"/><circle cx="90.4" cy="42.0" r="1.5"/><circle cx="93.2" cy="43.9" r="1.5"/><circle cx="96.1" cy="45.7" r="1.5"/><circle cx="98.9" cy="47.5" r="1.5"/><circle cx="101.8" cy="49.2" r="1.5"/><circle cx="104.6" cy="51.0" r="1.5"/><circle cx="107.5" cy="52.7" r="1.5"/><circle cx="110.3" cy="54.4" r="1.5"/><circle cx="113.2" cy="56.0" r="1.5"/><circle cx="116.0" cy="57.7" r="1.5"/><circle cx="118.9" cy="59.3" r="1.5"/><circle cx="121.7" cy="60.9" r="1.5"/><circle cx="124.6" cy="62.5" r="1.5"/><circle cx="127.4" cy="64.0" r="1.5"/><circle cx="130.3" cy="65.6" r="1.5"/><circle cx="133.1" cy="67.1" r="1.5"/><circle cx="136.0" cy="68.6" r="1.5"/><circle cx="138.8" cy="70.1" r="1.5"/><circle cx="141.7" cy="71.6" r="1.5"/><circle cx="144.5" cy="73.0" r="1.5"/><circle cx="147.4" cy="74.5" r="1.5"/><circle cx="150.3" cy="75.9" r="1.5"/><circle cx="153.1" cy="77.4" r="1.5"/><circle cx="156.0" cy="78.8" r="1.5"/><circle cx="158.9" cy="80.2" r="1.5"/><circle cx="161.7" cy="81.6" r="1.5"/><circle cx="164.6" cy="83.0" r="1.5"/><circle cx="167.5" cy="84.3" r="1.5"/><circle cx="170.3" cy="85.7" r="1.5"/><circle cx="173.2" cy="87.1" r="1.5"/><circle cx="176.0" cy="88.4" r="1.5"/><circle cx="178.9" cy="89.8" r="1.5"/><circle cx="181.8" cy="91.1" r="1.5"/><circle cx="184.6" cy="92.5" r="1.5"/><circle cx="187.5" cy="93.8" r="1.5"/><circle cx="190.4" cy="95.1" r="1.5"/><circle cx="193.2" cy="96.4" r="1.5"/><circle cx="196.1" cy="97.8" r="1.5"/><circle cx="199.0" cy="99.1" r="1.5"/><circle cx="201.8" cy="100.4" r="1.5"/><circle cx="204.7" cy="101.7" r="1.5"/><circle cx="207.5" cy="103.0" r="1.5"/><circle cx="210.4" cy="104.3" r="1.5"/><circle cx="213.3" cy="105.7" r="1.5"/><circle cx="216.1" cy="107.0" r="1.5"/><circle cx="219.0" cy="108.3" r="1.5"/><circle cx="221.9" cy="109.6" r="1.5"/><circle cx="224.7" cy="111.0" r="1.5"/><circle cx="227.6" cy="112.3" r="1.5"/><circle cx="230.5" cy="113.7" r="1.5"/><circle cx="233.3" cy="115.0" r="1.5"/><circle cx="236.2" cy="116.4" r="1.5"/><circle cx="239.0" cy="117.9" r="1.5"/><circle cx="241.9" cy="119.3" r="1.5"/><circle cx="244.8" cy="120.8" r="1.5"/><circle cx="247.6" cy="122.3" r="1.5"/><circle cx="250.5" cy="123.8" r="1.5"/><circle cx="253.4" cy="125.4" r="1.5"/><circle cx="256.2" cy="127.0" r="1.5"/><circle cx="259.1" cy="128.6" r="1.5"/><circle cx="262.0" cy="130.3" r="1.5"/><circle cx="264.8" cy="132.1" r="1.5"/><circle cx="267.7" cy="133.9" r="1.5"/><circle cx="270.6" cy="135.8" r="1.5"/><circle cx="273.4" cy="137.8" r="1.5"/><circle cx="276.3" cy="139.8" r="1.5"/><circle cx="279.1" cy="141.9" r="1.5"/><circle cx="282.0" cy="144.1" r="1.5"/><circle cx="284.9" cy="146.4" r="1.5"/><circle cx="287.7" cy="148.8" r="1.5"/><circle cx="290.6" cy="151.4" r="1.5"/><circle cx="293.5" cy="154.0" r="1.5"/><circle cx="296.3" cy="156.9" r="1.5"/><circle cx="299.2" cy="159.9" r="1.5"/><circle cx="302.1" cy="163.2" r="1.5"/><circle cx="304.9" cy="166.7" r="1.5"/><circle cx="307.8" cy="170.5" r="1.5"/><circle cx="310.6" cy="174.7" r="1.5"/><circle cx="313.5" cy="179.4" r="1.5"/><circle cx="316.3" cy="184.7" r="1.5"/><circle cx="319.2" cy="190.6" r="1.5"/><circle cx="322.0" cy="197.3" r="1.5"/><circle cx="324.9" cy="205.2" r="1.5"/><circle cx="327.7" cy="214.6" r="1.5"/><circle cx="331.7" cy="203.6" r="1.5"/><circle cx="333.8" cy="201.4" r="1.5"/><circle cx="336.2" cy="199.6" r="1.5"/><circle cx="61.4" cy="6.3" r="1.5"/><circle cx="326.2" cy="218.3" r="1.5"/><circle cx="328.9" cy="224.2" r="1.5"/></g>
<rect x="261.45" y="8.75" width="66.8" height="107.15" fill="#fff" stroke="#000" stroke-width="1.35"/>
<g font-family="Liberation Serif, serif" font-size="13.7" fill="#000">
<path d="M266.3,19.9 H289.6" stroke="#0000ff" stroke-width="1.6"/>
<text x="293.7" y="24.1" letter-spacing="0.3">3A</text>
<path d="M266.3,36.8 H289.6" stroke="#ff0000" stroke-width="1.6"/>
<text x="293.7" y="41.0" letter-spacing="0.3">2.5A</text>
<path d="M266.3,53.8 H289.6" stroke="#008080" stroke-width="1.6"/>
<text x="293.7" y="58.0" letter-spacing="0.3">2A</text>
<path d="M266.3,70.7 H289.6" stroke="#000000" stroke-width="1.6"/>
<text x="293.7" y="74.9" letter-spacing="0.3">1.5A</text>
<path d="M266.3,87.7 H289.6" stroke="#00ff00" stroke-width="1.6"/>
<text x="293.7" y="91.9" letter-spacing="0.3">1A</text>
<path d="M266.3,104.6 H289.6" stroke="#00aeef" stroke-width="1.6"/>
<text x="293.7" y="108.8" letter-spacing="0.3">0.5A</text>
<text x="61.6" y="255.6" text-anchor="middle">0</text>
<text x="99.9" y="255.6" text-anchor="middle">5</text>
<text x="138.2" y="255.6" text-anchor="middle">10</text>
<text x="176.6" y="255.6" text-anchor="middle">15</text>
<text x="214.9" y="255.6" text-anchor="middle">20</text>
<text x="253.2" y="255.6" text-anchor="middle">25</text>
<text x="291.5" y="255.6" text-anchor="middle">30</text>
<text x="329.8" y="255.6" text-anchor="middle">35</text>
<text x="52.2" y="201.7" text-anchor="end">11</text>
<text x="52.2" y="155.5" text-anchor="end">11.5</text>
<text x="52.2" y="109.3" text-anchor="end">12</text>
<text x="52.2" y="63.1" text-anchor="end">12.5</text>
<text x="52.2" y="16.9" text-anchor="end">13</text>
<text x="199.8" y="275.6" text-anchor="middle" textLength="49.6" lengthAdjust="spacing">Time [h]</text>
<text transform="translate(14.6,119.6) rotate(-90)" text-anchor="middle" textLength="66.3" lengthAdjust="spacing">Voltage [V]</text>
</g>
</svg>
</body></html>
